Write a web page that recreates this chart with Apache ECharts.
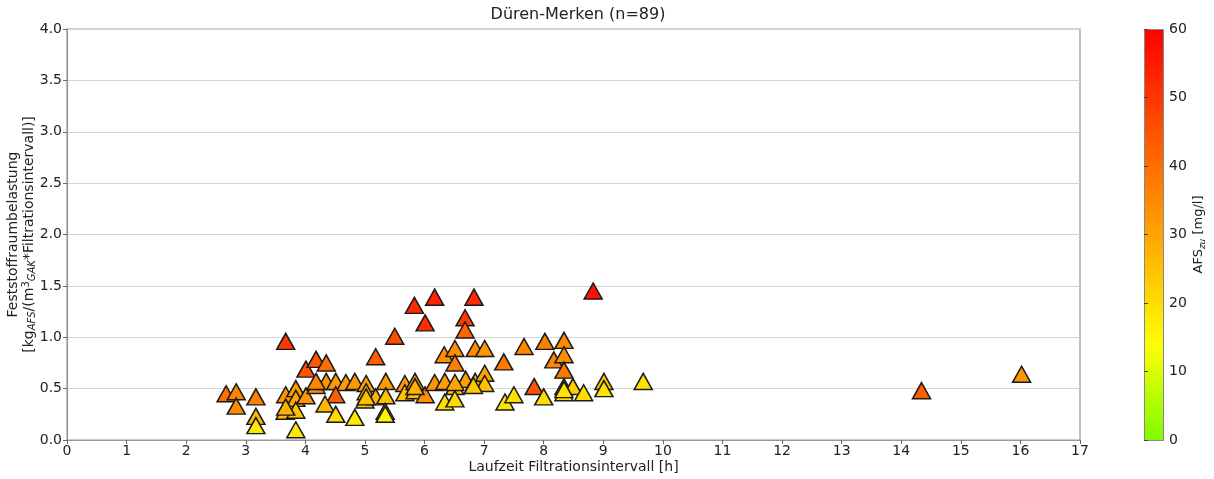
<!DOCTYPE html>
<html>
<head>
<meta charset="utf-8">
<script src="https://cdn.jsdelivr.net/npm/echarts@6/dist/echarts.min.js"></script>
<style>html,body{margin:0;padding:0;background:#fff;}#c{width:1214px;height:479px;}</style>
</head>
<body>
<div id="c"></div>
<script>
// Laufzeit Filtrationsintervall [h]
const laufzeit = [2.67,2.84,2.84,3.17,3.17,3.17,3.67,3.67,3.66,3.84,3.84,3.84,3.84,4.01,4.01,4.18,4.35,4.18,4.35,4.51,4.68,4.51,4.33,4.51,4.83,4.83,5.02,5.02,5.0,5.18,5.35,5.35,5.34,5.34,5.18,5.50,5.67,5.67,5.84,5.84,5.83,6.01,6.17,6.01,6.17,6.34,6.51,6.34,6.51,6.69,6.85,7.01,7.01,6.33,6.51,6.51,6.85,7.01,6.68,6.68,6.83,7.33,7.35,7.50,7.67,7.84,8.02,8.00,8.17,8.34,8.34,8.34,8.34,8.34,8.49,8.67,8.83,9.01,9.01,9.67,14.34,16.02,6.82,4.18,5.84,8.34,3.67,6.51,5.02];
// Feststoffraumbelastung
const belastung = [0.45,0.47,0.33,0.42,0.23,0.14,0.96,0.44,0.28,0.50,0.405,0.29,0.10,0.69,0.43,0.785,0.75,0.53,0.57,0.57,0.56,0.44,0.35,0.25,0.22,0.57,0.55,0.47,0.39,0.42,0.57,0.43,0.28,0.25,0.81,1.01,0.55,0.46,0.57,0.48,1.31,1.14,1.39,0.44,0.56,0.57,0.52,0.37,0.40,0.59,0.57,0.65,0.55,0.83,0.89,0.75,0.89,0.89,1.19,1.07,1.39,0.76,0.37,0.44,0.91,0.52,0.96,0.42,0.78,0.97,0.83,0.68,0.52,0.46,0.52,0.46,1.45,0.57,0.50,0.57,0.48,0.64,0.53,0.57,0.52,0.49,0.32,0.56,0.42];
// AFS_zu [mg/l]
const afsZu = [40,36,35,37,27,18,50,33,26,32,30,25,18,45,33,44,40,34,33,32,32,43,27,20,18,32,31,27,24,27,32,25,17,16,43,46,32,25,32,26,52,52,54,34,33,32,25,20,21,31,27,30,25,34,34,37,35,33,50,42,52,38,19,20,35,45,37,20,36,35,34,38,21,20,23,20,57,24,19,19,43,33,24,36,28,19,28,30,26];
const xTicks = {min:0, max:17, interval:1};
const yTicks = {min:0, max:4, interval:0.5};
const cbTicks = {min:0, max:60, interval:10};

// colormap stops (value, color)
const cmapStops = [[0,[124,252,0]],[14,[255,255,0]],[30,[255,165,0]],[60,[255,0,0]]];
function cmap(v){
  for(let i=0;i<cmapStops.length-1;i++){
    const [a,ca]=cmapStops[i],[b,cb]=cmapStops[i+1];
    if(v<=b){const t=(v-a)/(b-a);
      return 'rgb('+ca.map((c,k)=>Math.round(c+(cb[k]-c)*t)).join(',')+')';}
  }
  return 'rgb(255,0,0)';
}
const cmapList=[];for(let v=0;v<=60;v+=2)cmapList.push(cmap(v));
const gradStops=cmapList.map((c,i)=>({offset:1-i/(cmapList.length-1),color:c}));

const data = laufzeit.map((x,i)=>[x,belastung[i],afsZu[i]]);
const font = 'DejaVu Sans';
const chart = echarts.init(document.getElementById('c'));
chart.setOption({
  animation:false,
  backgroundColor:'#fff',
  textStyle:{fontFamily:font},
  title:{text:'Düren-Merken (n=89)',left:573,top:2,textAlign:'center',
    textStyle:{fontFamily:font,fontSize:16,fontWeight:'normal',color:'#222'}},
  grid:[
    {left:67,right:134,top:29,bottom:39,show:true,borderColor:'#999',borderWidth:1.2,outerBoundsMode:'none',containLabel:false},
    {left:1144,width:19,top:29,bottom:39,outerBoundsMode:'none',containLabel:false}
  ],
  xAxis:[
    {type:'value',gridIndex:0,min:xTicks.min,max:xTicks.max,interval:xTicks.interval,
     name:'Laufzeit Filtrationsintervall [h]',nameLocation:'middle',nameGap:20,nameMoveOverlap:false,
     nameTextStyle:{fontFamily:font,fontSize:14,color:'#222'},
     axisLine:{show:true,onZero:false,lineStyle:{color:'#999',width:1.2}},
     axisTick:{show:true,length:4,lineStyle:{color:'#666'}},
     axisLabel:{fontFamily:font,fontSize:14,color:'#222',margin:4},
     splitLine:{show:false}},
    {type:'value',gridIndex:1,min:0,max:1,show:false}
  ],
  yAxis:[
    {type:'value',gridIndex:0,min:yTicks.min,max:yTicks.max,interval:yTicks.interval,
     name:'Feststoffraumbelastung\n[kg{sub|AFS}/(m{sup|3}{sub|GAK}*Filtrationsintervall)]',
     nameLocation:'middle',nameGap:30,nameRotate:90,nameMoveOverlap:false,
     nameTextStyle:{fontFamily:font,fontSize:14,color:'#222',lineHeight:16,
       rich:{sub:{fontFamily:font,fontSize:10,fontStyle:'italic',color:'#222',verticalAlign:'bottom',lineHeight:16},
             sup:{fontFamily:font,fontSize:10,color:'#222',verticalAlign:'top',lineHeight:16}}},
     axisLine:{show:true,lineStyle:{color:'#999',width:1.2}},
     axisTick:{show:true,length:4,lineStyle:{color:'#666'}},
     axisLabel:{fontFamily:font,fontSize:14,color:'#222',margin:5,formatter:v=>v.toFixed(1)},
     splitLine:{show:true,lineStyle:{color:'#d4d4d4',width:1}}},
    {type:'value',gridIndex:1,position:'right',min:cbTicks.min,max:cbTicks.max,interval:cbTicks.interval,
     name:'AFS{sub|zu} [mg/l]',nameLocation:'middle',nameGap:28,nameRotate:90,nameMoveOverlap:false,
     nameTextStyle:{fontFamily:font,fontSize:13,color:'#222',
       rich:{sub:{fontFamily:font,fontSize:9,fontStyle:'italic',color:'#222',verticalAlign:'bottom',lineHeight:16}}},
     axisLine:{show:false},
     axisTick:{show:true,length:4,lineStyle:{color:'#444'}},
     axisLabel:{fontFamily:font,fontSize:14,color:'#222',margin:6},
     splitLine:{show:false}}
  ],
  visualMap:{show:false,type:'continuous',min:cbTicks.min,max:cbTicks.max,dimension:2,seriesIndex:0,
    inRange:{color:cmapList}},
  graphic:[{type:'rect',left:1144,top:29,z:-1,shape:{width:19,height:411},
    style:{fill:new echarts.graphic.LinearGradient(0,0,0,1,gradStops),stroke:'#888',lineWidth:1}}],
  series:[{type:'scatter',xAxisIndex:0,yAxisIndex:0,data:data,symbol:'triangle',symbolSize:[18,16],
    itemStyle:{borderColor:'#1a1a1a',borderWidth:1.5,opacity:1}}]
});
</script>
</body>
</html>
